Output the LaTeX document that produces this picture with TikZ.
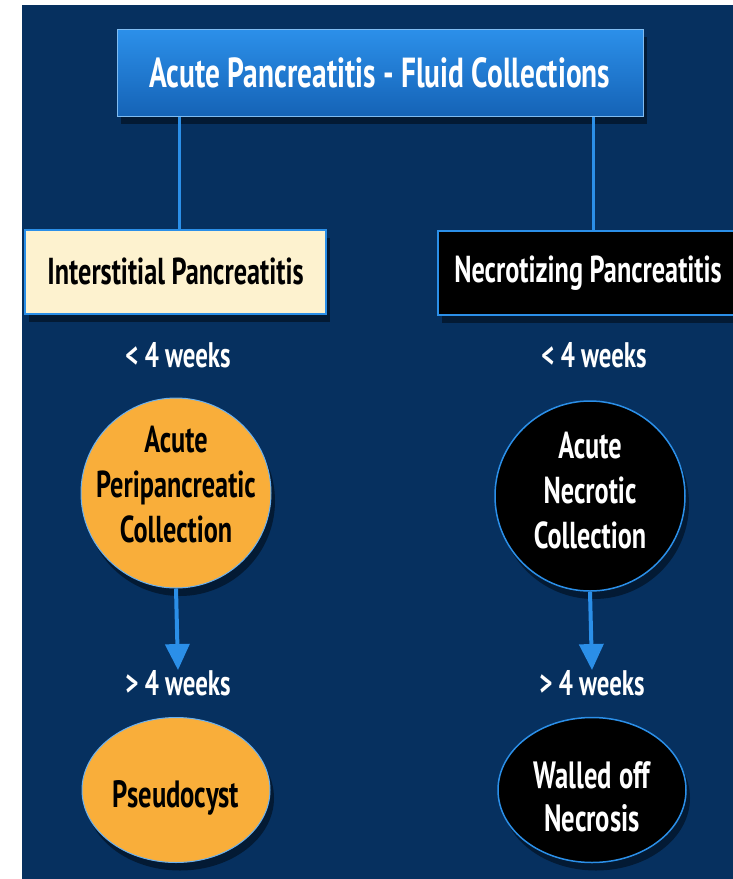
\documentclass[tikz,border=0pt]{standalone}
\usepackage{fontspec}
\setmainfont{PT Sans}
\newfontfamily\cond[FakeStretch=0.70]{PT Sans}
\usetikzlibrary{shadows,arrows.meta,shapes.geometric}
\definecolor{navy}{HTML}{06305F}
\definecolor{titletop}{HTML}{2C90EA}
\definecolor{titlebot}{HTML}{1563B6}
\definecolor{lineblue}{HTML}{2B8FE8}
\definecolor{cream}{HTML}{FDF2CF}
\definecolor{orng}{HTML}{F9AE3A}
\tikzset{
  myshadow/.style={drop shadow={shadow xshift=4pt,shadow yshift=-8pt,opacity=0.45,fill=black}},
  titlebox/.style={rectangle, draw=lineblue!60!white, line width=1pt, top color=titletop, bottom color=titlebot,
     minimum width=526pt, minimum height=87pt, inner sep=0pt, text=white, myshadow},
  hbox/.style={rectangle, draw=lineblue, line width=2pt, minimum height=84pt, inner sep=0pt, myshadow},
  blob/.style={circle, minimum size=190pt, inner sep=0pt, myshadow},
  oval/.style={ellipse, minimum width=188pt, minimum height=145pt, inner sep=0pt, myshadow},
  ctext/.style={align=center, inner sep=0pt, font=\cond\bfseries\fontsize{37.5}{45}\selectfont},
  otext/.style={align=center, inner sep=0pt, font=\cond\bfseries\fontsize{38}{43}\selectfont},
  lbl/.style={text=white, inner sep=0pt, font=\cond\bfseries\fontsize{35.5}{38}\selectfont},
  conn/.style={lineblue, line width=3pt},
  arr/.style={lineblue, line width=4pt, -{Triangle[width=24pt,length=26pt]}},
}
\begin{document}
\begin{tikzpicture}[x=1pt,y=-1pt]
\useasboundingbox (0,0) rectangle (733,879);
\fill[white] (0,0) rectangle (733,879);
\fill[navy] (22,5) rectangle (733,879);
\begin{scope}
\clip (22,5) rectangle (733,879);
\node[titlebox, font=\cond\bfseries\fontsize{42}{46}\selectfont] (title) at (380,72.5) {Acute Pancreatitis - Fluid Collections};
\node[hbox, fill=cream, minimum width=301pt, font=\cond\bfseries\fontsize{37.5}{42}\selectfont] (inter) at (175.5,271.5) {Interstitial Pancreatitis};
\node[hbox, fill=black, minimum width=310pt, text=white, font=\cond\bfseries\fontsize{37.5}{42}\selectfont] (necro) at (593,273) {\hspace{-10pt}Necrotizing Pancreatitis};
\draw[conn] (title.south -| 179,0) -- (inter.north -| 179,0);
\draw[conn] (title.south -| 593,0) -- (necro.north -| 593,0);
\node[lbl] (lw1) at (178,355) {< 4 weeks};
\node[lbl] (rw1) at (594,355) {< 4 weeks};
\node[blob, fill=orng, draw=lineblue!70!white, line width=1pt] (apc) at (176,493) {};
\node[ctext] (apcT) at (176,485) {Acute\\Peripancreatic\\Collection};
\node[blob, fill=black, draw=lineblue, line width=1.5pt] (anc) at (590,496) {};
\node[ctext, text=white] (ancT) at (590,491) {Acute\\Necrotic\\Collection};
\node[lbl] (lw2) at (178,683) {> 4 weeks};
\node[lbl] (rw2) at (592,683) {> 4 weeks};
\draw[arr] (apc.south) -- (lw2.north);
\draw[arr] (anc.south) -- (rw2.north);
\node[oval, fill=orng, draw=lineblue!70!white, line width=1pt] (pseudo) at (176,790) {};
\node[otext] (pseudoT) at (176,798) {Pseudocyst};
\node[oval, fill=black, draw=lineblue, line width=1.5pt] (won) at (592,790) {};
\node[otext, text=white] (wonT) at (592,796.5) {Walled off\\Necrosis};
\end{scope}
\end{tikzpicture}
\end{document}
